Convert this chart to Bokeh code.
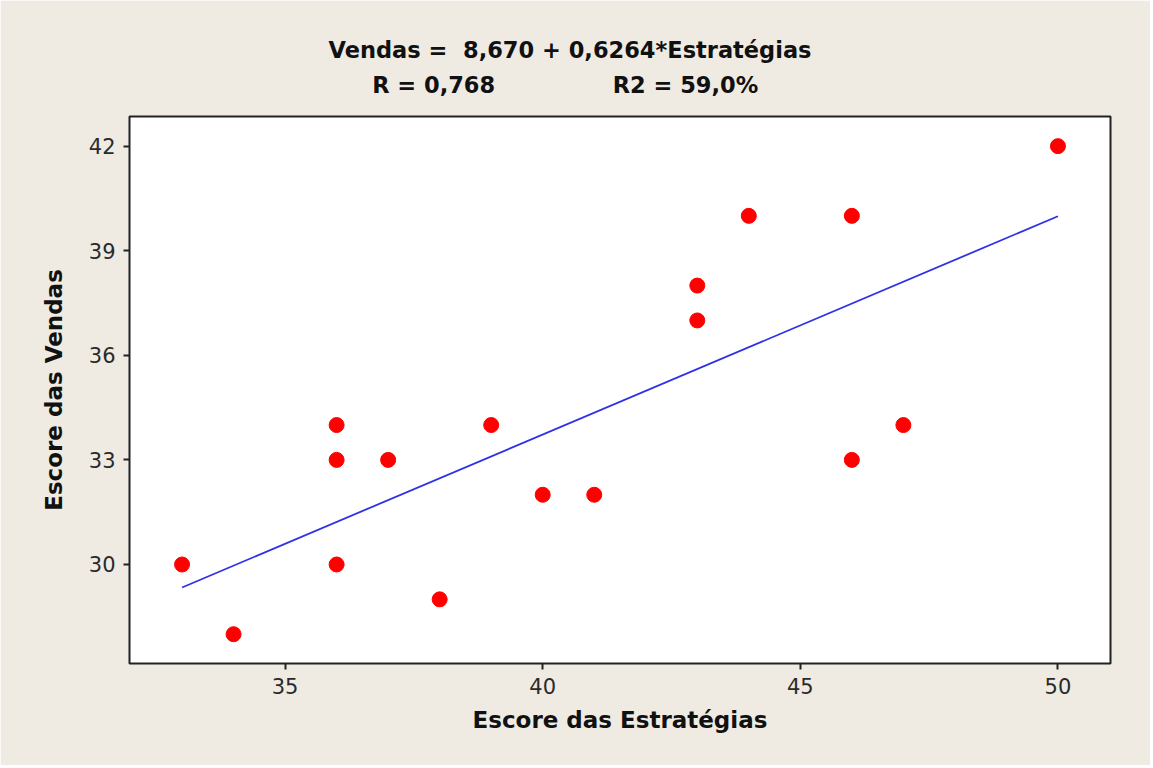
from bokeh.plotting import figure
from bokeh.models import Range1d, FixedTicker, Title
from bokeh.embed import file_html
from bokeh.resources import INLINE

# ---- data ----
estrategias = [33, 34, 36, 36, 36, 37, 38, 39, 40, 41, 43, 43, 44, 46, 46, 47, 50]
vendas      = [30, 28, 34, 33, 30, 33, 29, 34, 32, 32, 38, 37, 40, 40, 33, 34, 42]
intercept = 8.670
slope = 0.6264
x_ticks = [35, 40, 45, 50]
y_ticks = [30, 33, 36, 39, 42]
NB = "\u00a0"
title1 = "Vendas =" + NB * 2 + "8,670 + 0,6264*Estratégias"
title2 = NB * 5 + "\u2009" + "R = 0,768" + NB * 15 + "R2 = 59,0%"
x_label = "Escore das Estratégias"
y_label = "Escore das Vendas"

# ---- layout ----
W, H = 1150, 765
BL, BT, FW, FH = 129, 116, 981, 547
X0, X1 = 31.98, 51.02
Y0, Y1 = 27.16, 42.85
BG = "#EFEBE3"
FONT = "DejaVu Sans"

p = figure(width=W, height=H, output_backend="svg", toolbar_location=None,
           x_range=Range1d(X0, X1), y_range=Range1d(Y0, Y1),
           min_border_left=BL, min_border_top=BT,
           min_border_right=W - BL - FW, min_border_bottom=H - BT - FH)
p.background_fill_color = "white"
p.border_fill_color = BG
p.outline_line_color = "#222222"
p.outline_line_width = 2
p.grid.visible = False

for ax, ticks in ((p.xaxis, x_ticks), (p.yaxis, y_ticks)):
    ax.ticker = FixedTicker(ticks=ticks)
    ax.axis_line_color = None
    ax.major_tick_in = 0
    ax.major_tick_out = 6
    ax.major_tick_line_width = 2
    ax.major_tick_line_color = "#222222"
    ax.minor_tick_line_color = None
    ax.major_label_text_font = FONT
    ax.major_label_text_font_size = "21px"
    ax.major_label_text_color = "#2a2a2a"
    ax.major_label_standoff = 8
    ax.axis_label_text_font = FONT
    ax.axis_label_text_font_size = "23px"
    ax.axis_label_text_font_style = "bold"
    ax.axis_label_text_color = "#111111"

p.xaxis.axis_label = x_label
p.yaxis.axis_label = y_label
p.xaxis.axis_label_standoff = 10
p.yaxis.axis_label_standoff = 19

# fitted line
xs = [min(estrategias), max(estrategias)]
ys = [intercept + slope * v for v in xs]
p.line(xs, ys, line_color="#3030E8", line_width=1.8)

# points
p.scatter(estrategias, vendas, size=15, fill_color="#FF0000", line_color="#FF0000", marker="circle")

# two-line title
p.add_layout(Title(text=title1 + "\n" + title2, align="left", offset=199, standoff=36,
                   text_font=FONT, text_font_size="22.5px", text_line_height=1.35,
                   text_font_style="bold", text_color="#111111"), "above")

open("out.html", "w").write(file_html(p, INLINE))
